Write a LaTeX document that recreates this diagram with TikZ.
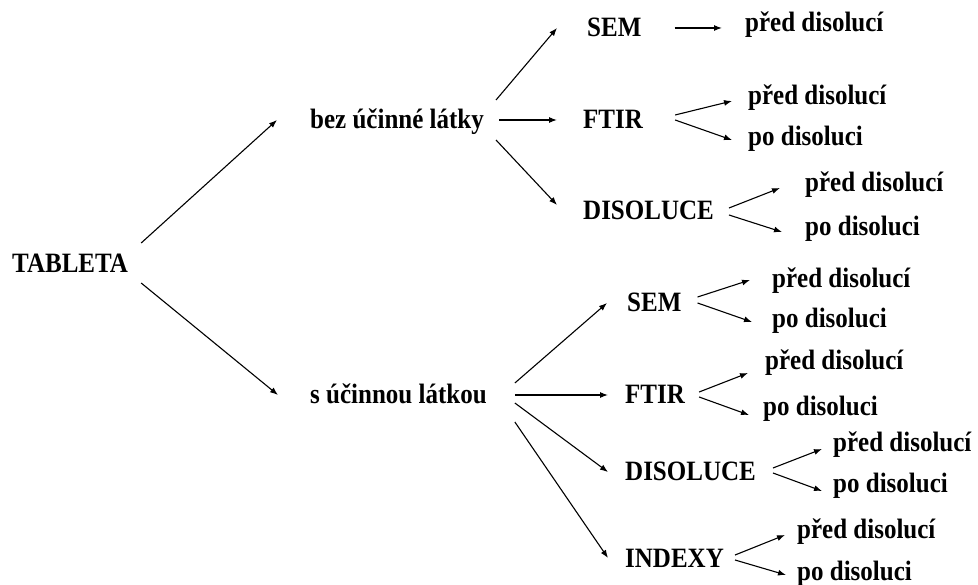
\documentclass[tikz,border=0pt]{standalone}
\usepackage{fontspec}
\setmainfont{Liberation Serif}
\usetikzlibrary{arrows.meta}
\newcommand{\tx}[1]{\scalebox{1}[1.12]{#1}}
\begin{document}
\begin{tikzpicture}[x=1pt,y=-1pt,
  lbl/.style={anchor=base west,inner sep=0pt,font=\fontsize{25}{29}\selectfont\bfseries},
  arr/.style={line width=1.1pt,-{Latex[length=8pt,width=6pt]}}]
\useasboundingbox (0,0) rectangle (978,585);
% nodes
\node[lbl] (tab) at (12,273) {\tx{TABLETA}};
\node[lbl] (bez) at (310,129) {\tx{bez účinné látky}};
\node[lbl] (s) at (310,403) {\tx{s účinnou látkou}};
\node[lbl] (A1) at (587,37) {\tx{SEM}};
\node[lbl] (A1a) at (745,32) {\tx{před disolucí}};
\node[lbl] (A2) at (583,129) {\tx{FTIR}};
\node[lbl] (A2a) at (748,105) {\tx{před disolucí}};
\node[lbl] (A2b) at (748,146) {\tx{po disoluci}};
\node[lbl] (A3) at (583,220) {\tx{DISOLUCE}};
\node[lbl] (A3a) at (805,192) {\tx{před disolucí}};
\node[lbl] (A3b) at (805,236) {\tx{po disoluci}};
\node[lbl] (B1) at (627,312) {\tx{SEM}};
\node[lbl] (B1a) at (772,288) {\tx{před disolucí}};
\node[lbl] (B1b) at (772,328) {\tx{po disoluci}};
\node[lbl] (B2) at (625,403) {\tx{FTIR}};
\node[lbl] (B2a) at (765,370) {\tx{před disolucí}};
\node[lbl] (B2b) at (763,416) {\tx{po disoluci}};
\node[lbl] (B3) at (625,480) {\tx{DISOLUCE}};
\node[lbl] (B3a) at (833,452) {\tx{před disolucí}};
\node[lbl] (B3b) at (833,493) {\tx{po disoluci}};
\node[lbl] (B4) at (625,567) {\tx{INDEXY}};
\node[lbl] (B4a) at (797,538) {\tx{před disolucí}};
\node[lbl] (B4b) at (797,580) {\tx{po disoluci}};
% connectors
\draw[arr] ([shift={(13,-30)}]tab.base east) -- ([shift={(-33,-9)}]bez.base west);
\draw[arr] ([shift={(13,10)}]tab.base east) -- ([shift={(-32,-8)}]s.base west);
\draw[arr] ([shift={(12,-29)}]bez.base east) -- ([shift={(-30,-9)}]A1.base west);
\draw[arr] ([shift={(15,-9)}]bez.base east) -- ([shift={(-26,-9)}]A2.base west);
\draw[arr] ([shift={(12,11)}]bez.base east) -- ([shift={(-26,-15)}]A3.base west);
\draw[arr] ([shift={(33,-9)}]A1.base east) -- ([shift={(-23,-4)}]A1a.base west);
\draw[arr] ([shift={(32,-14)}]A2.base east) -- ([shift={(-16,-4)}]A2a.base west);
\draw[arr] ([shift={(32,-9)}]A2.base east) -- ([shift={(-16,-6)}]A2b.base west);
\draw[arr] ([shift={(15,-12)}]A3.base east) -- ([shift={(-25,-4)}]A3a.base west);
\draw[arr] ([shift={(15,-5)}]A3.base east) -- ([shift={(-23,-4)}]A3b.base west);
\draw[arr] ([shift={(28,-20)}]s.base east) -- ([shift={(-20,-9)}]B1.base west);
\draw[arr] ([shift={(28,-8)}]s.base east) -- ([shift={(-17,-8)}]B2.base west);
\draw[arr] ([shift={(28,0)}]s.base east) -- ([shift={(-17,-8)}]B3.base west);
\draw[arr] ([shift={(28,19)}]s.base east) -- ([shift={(-17,-9)}]B4.base west);
\draw[arr] ([shift={(16,-15)}]B1.base east) -- ([shift={(-22,-8)}]B1a.base west);
\draw[arr] ([shift={(16,-9)}]B1.base east) -- ([shift={(-20,-6)}]B1b.base west);
\draw[arr] ([shift={(14,-11)}]B2.base east) -- ([shift={(-17,3)}]B2a.base west);
\draw[arr] ([shift={(14,-6)}]B2.base east) -- ([shift={(-14,-1)}]B2b.base west);
\draw[arr] ([shift={(17,-12)}]B3.base east) -- ([shift={(-11,-3)}]B3a.base west);
\draw[arr] ([shift={(17,-7)}]B3.base east) -- ([shift={(-11,-2)}]B3b.base west);
\draw[arr] ([shift={(11,-12)}]B4.base east) -- ([shift={(-12,-3)}]B4a.base west);
\draw[arr] ([shift={(11,-7)}]B4.base east) -- ([shift={(-11,-5)}]B4b.base west);
\end{tikzpicture}
\end{document}
